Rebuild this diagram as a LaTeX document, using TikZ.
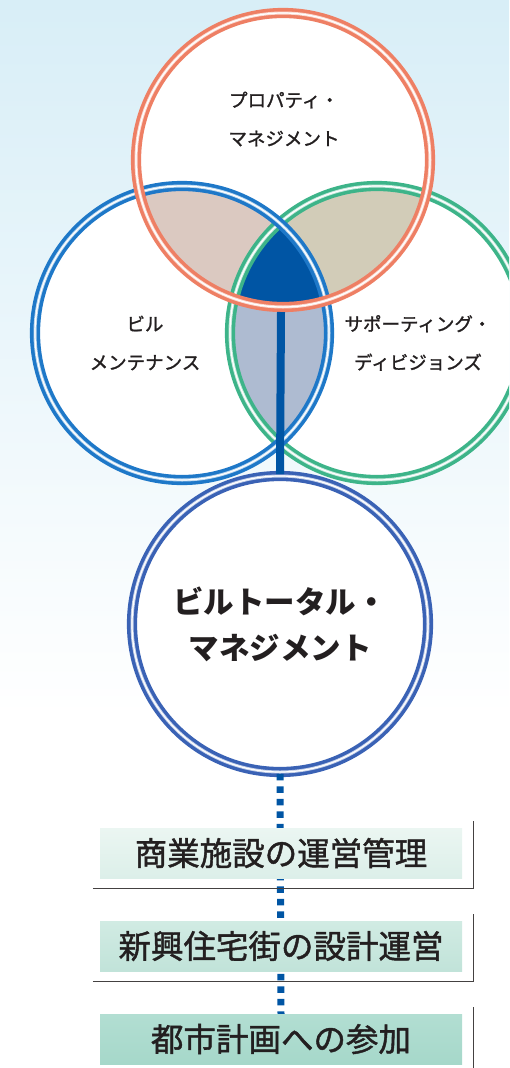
\documentclass[tikz,border=0pt]{standalone}
\usepackage{fontspec}
\setmainfont{Noto Sans CJK JP}
\newfontfamily\jpmed[FakeBold=1.3]{Noto Sans CJK JP}
\usepackage{tkz-euclide}
\usetikzlibrary{calc}
\definecolor{bgtop}{HTML}{D8EEF7}
\definecolor{ink}{HTML}{231F20}
\definecolor{ringorange}{HTML}{EE7F64}
\definecolor{ringblue}{HTML}{1E78C8}
\definecolor{ringgreen}{HTML}{3DB489}
\definecolor{ringnavy}{HTML}{3A62B5}
\definecolor{pinkgray}{HTML}{DBC9C1}
\definecolor{khaki}{HTML}{D2CCB8}
\definecolor{bluegray}{HTML}{AEBBD1}
\definecolor{deepblue}{HTML}{0055A4}
\definecolor{planatop}{HTML}{EBF6F2}
\definecolor{planabot}{HTML}{DCEFE9}
\definecolor{planbtop}{HTML}{D1EBE3}
\definecolor{planbbot}{HTML}{C1E3D9}
\definecolor{planctop}{HTML}{B2DED2}
\definecolor{plancbot}{HTML}{A6D8CA}

\begin{document}
\begin{tikzpicture}[x=1pt, y=-1pt,
    ring/.style={draw=#1, line width=3.6pt, double=#1!30, double distance=3pt,
        postaction={draw=white, line width=1.2pt}},
    lbl/.style={align=center, text=ink, font=\jpmed\fontsize{18.5}{38.5}\selectfont},
    plan/.style={minimum width=362pt, minimum height=50pt, inner sep=0pt, text=ink,
        font=\jpmed\fontsize{32.5}{32.5}\selectfont},
    shadeline/.style={draw=ink!85, line width=1.4pt},
    dots/.style={draw=deepblue, line width=7pt, dash pattern=on 6.5pt off 6pt},
    bar/.style={draw=deepblue, line width=8pt}]
    \clip (0,0) rectangle (509,1068);
    \fill[top color=bgtop, bottom color=white] (0,0) rectangle (509,716);
    \tkzDefPoints{283/160/P, 182/333/L, 377/333/S, 280/624/T}
    \fill[white] (P) circle (147pt) (L) circle (147pt) (S) circle (147pt);
    \begin{scope}
    \clip (L) circle (147pt);
    \fill[bluegray] (S) circle (147pt);
    \end{scope}
    \begin{scope}
    \clip (P) circle (147pt);
    \fill[pinkgray] (L) circle (147pt);
    \fill[khaki] (S) circle (147pt);
    \clip (L) circle (147pt);
    \fill[deepblue] (S) circle (147pt);
    \end{scope}
    \node[ring=ringnavy, circle, fill=white, minimum size=296pt, align=center, text=ink,
        font=\fontsize{30.5}{46}\selectfont\bfseries] (tbm) at (T) {ビルトータル・\\マネジメント};
    \coordinate (dotend) at (281,1014);
    \draw[dots] (tbm.south) -- (dotend);
    \draw[ring=ringgreen] (S) circle (147pt);
    \draw[ring=ringblue] (L) circle (147pt);
    \draw[ring=ringorange] (P) circle (147pt);
    \coordinate (core) at (281,312);
    \draw[bar] (core) -- (tbm.north);
    \node[lbl] (pm) at (284,119) {プロパティ・\\マネジメント};
    \node[lbl] (bm) at (145,343) {ビル\\メンテナンス};
    \node[lbl] (sd) at (418,343) {サポーティング・\\ディビジョンズ};
    \node[plan, top color=planatop, bottom color=planabot] (k1) at (281,853) {商業施設の運営管理};
    \node[plan, top color=planbtop, bottom color=planbbot] (k2) at (281,946) {新興住宅街の設計運営};
    \node[plan, top color=planctop, bottom color=plancbot] (k3) at (281,1039) {都市計画への参加};
    \draw[shadeline] ($(k1.south west)+(-7,10)$) -| ($(k1.north east)+(11,-7)$);
    \draw[shadeline] ($(k2.south west)+(-7,10)$) -| ($(k2.north east)+(11,-7)$);
    \draw[shadeline] ($(k3.south west)+(-7,10)$) -| ($(k3.north east)+(11,-7)$);
\end{tikzpicture}
\end{document}
